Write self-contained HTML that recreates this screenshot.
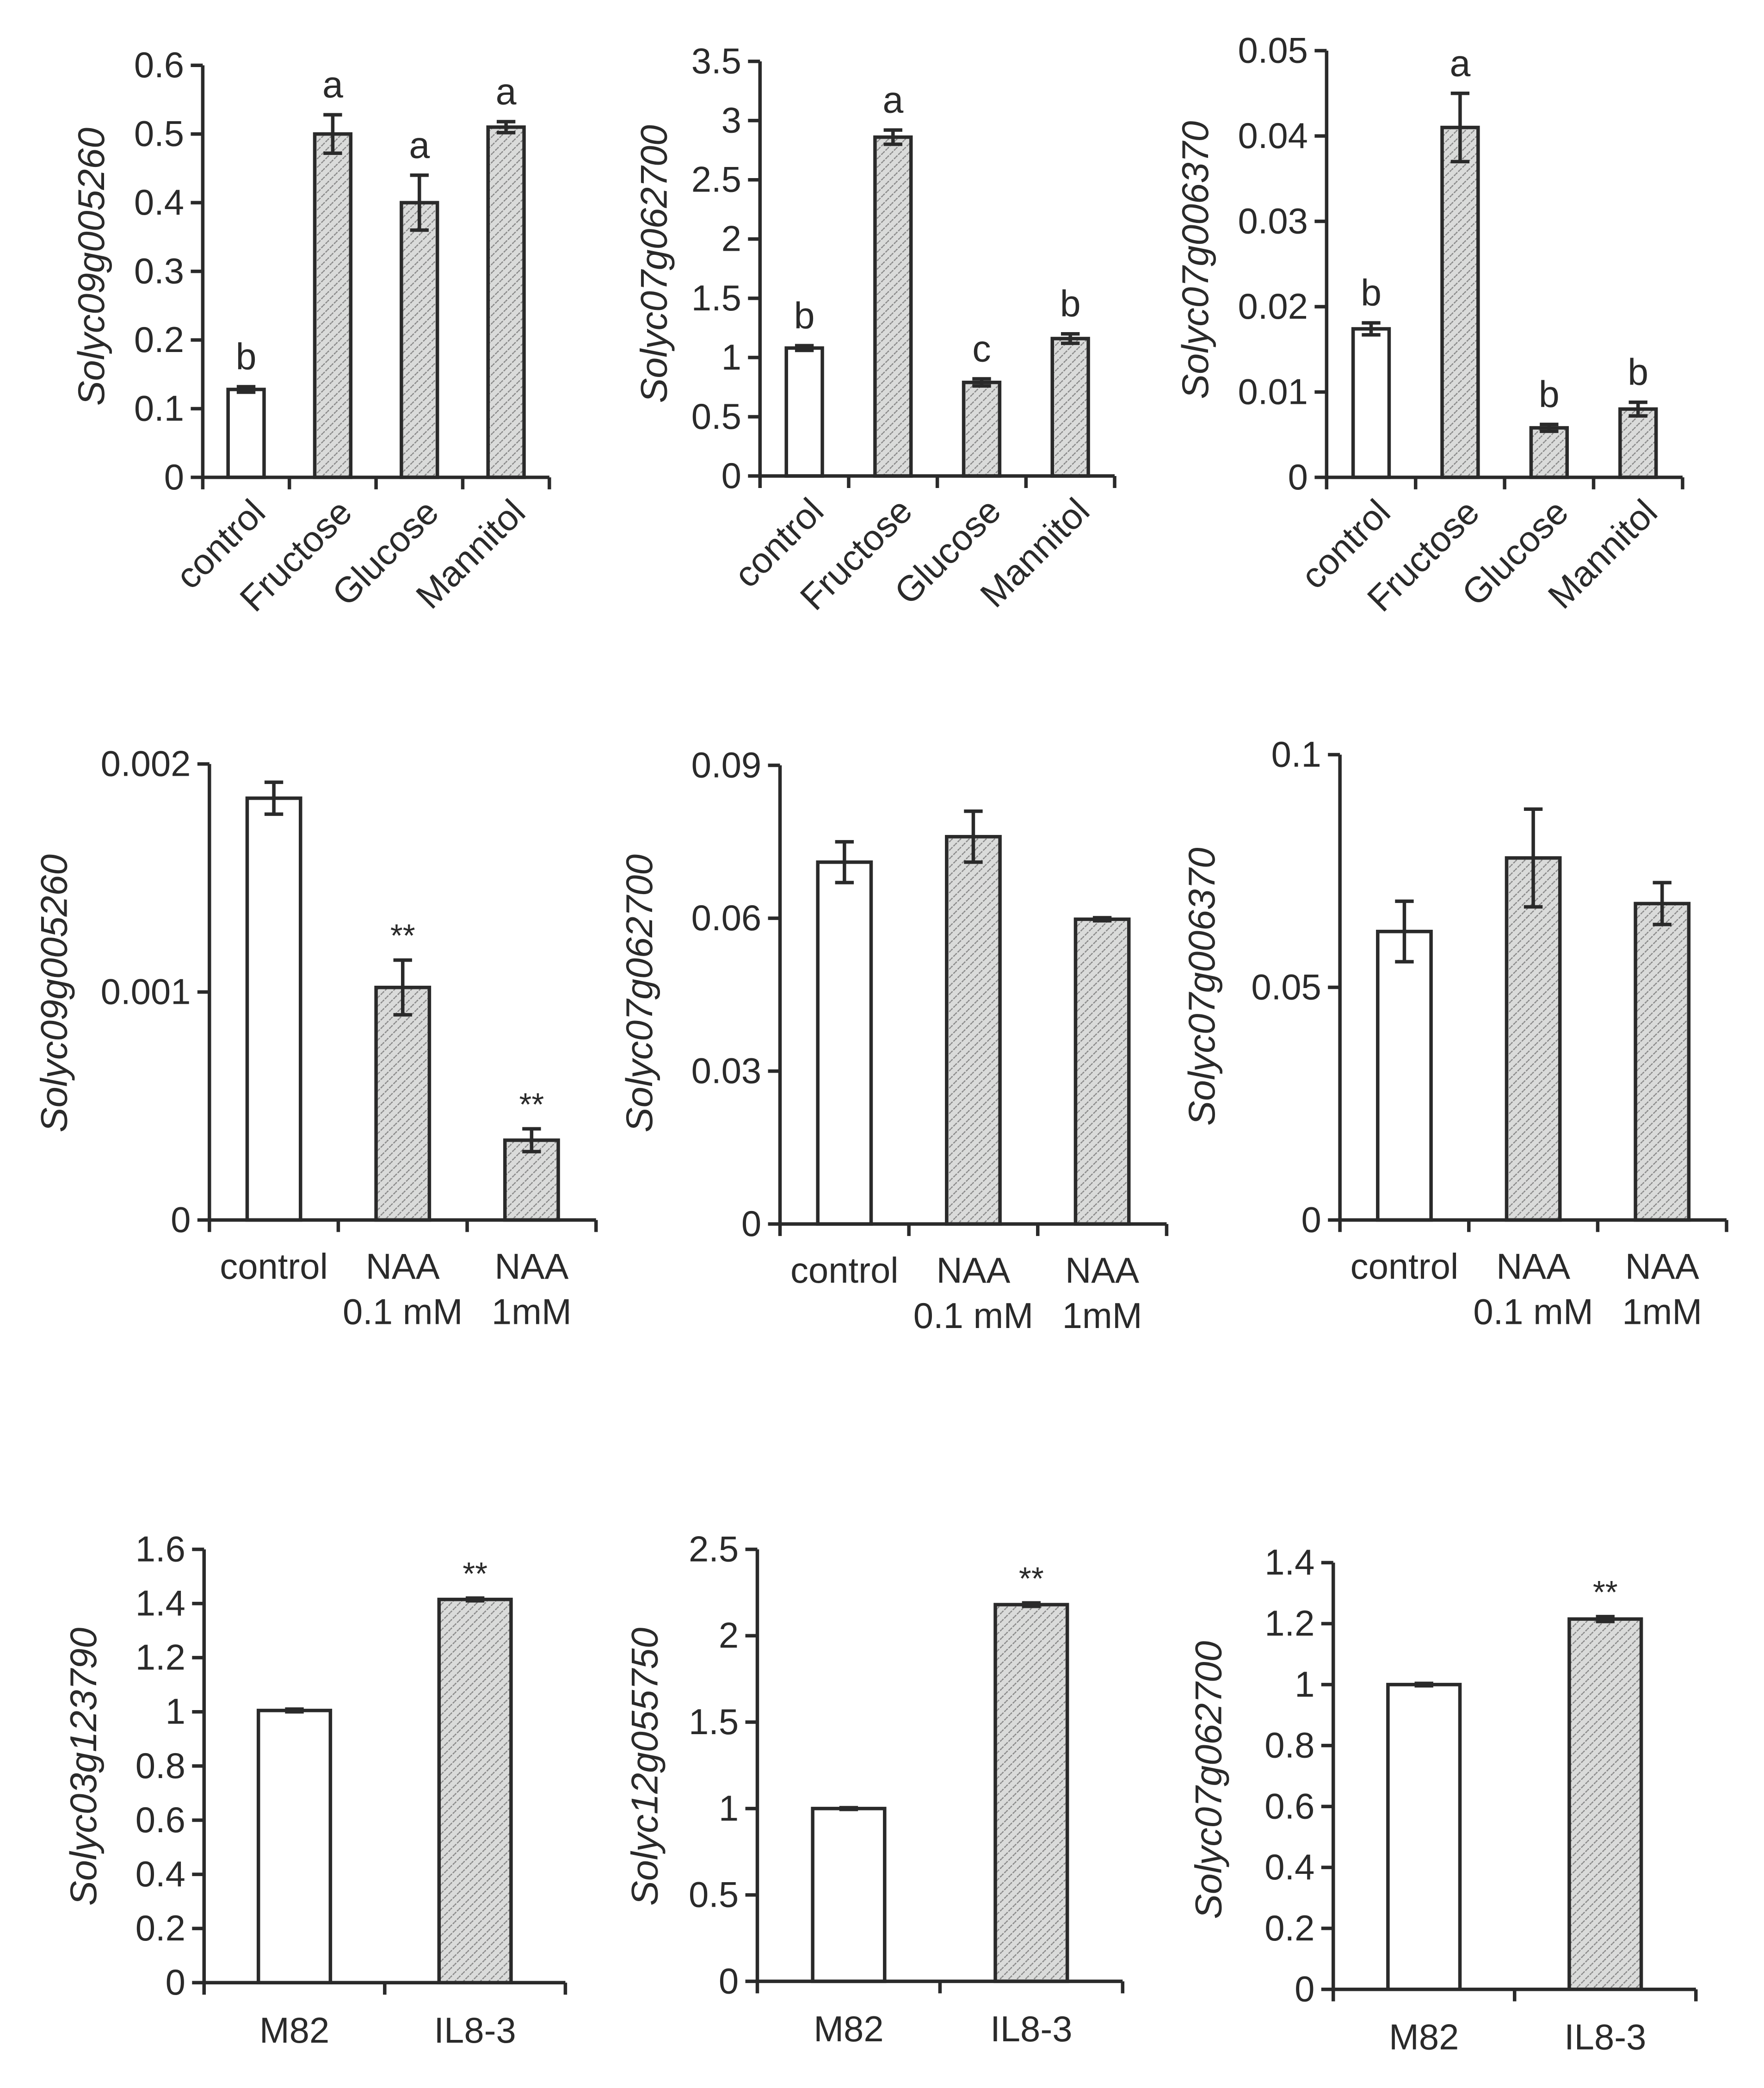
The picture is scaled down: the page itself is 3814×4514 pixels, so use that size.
<!DOCTYPE html>
<html><head><meta charset="utf-8"><style>
html,body{margin:0;padding:0;background:#fff;}
svg{display:block;}
</style></head><body>
<svg id="fig" width="3814" height="4514" viewBox="0 0 1323 1566" xmlns="http://www.w3.org/2000/svg" font-family="'Liberation Sans', Arial, sans-serif">
<defs>
<pattern id="hatch" patternUnits="userSpaceOnUse" width="4.5" height="4.5" patternTransform="rotate(45)">
<rect width="4.5" height="4.5" fill="#dadbda"/>
<line x1="0" y1="0" x2="0" y2="4.5" stroke="#858585" stroke-width="1.7" stroke-dasharray="1.7 0.9"/>
</pattern>
</defs>
</svg>
<script>
// ---- data ----
const sugarCats = ["control","Fructose","Glucose","Mannitol"];
const naaCats = [["control"],["NAA","0.1 mM"],["NAA","1mM"]];
const ilCats = ["M82","IL8-3"];

const c1Values = [0.128, 0.5, 0.40, 0.51];
const c1Errors = [0.004, 0.028, 0.04, 0.008];
const c1Letters = ["b","a","a","a"];
const c1Ticks = ["0","0.1","0.2","0.3","0.4","0.5","0.6"];

const c2Values = [1.08, 2.86, 0.79, 1.16];
const c2Errors = [0.02, 0.06, 0.03, 0.04];
const c2Letters = ["b","a","c","b"];
const c2Ticks = ["0","0.5","1","1.5","2","2.5","3","3.5"];

const c3Values = [0.0174, 0.041, 0.0058, 0.008];
const c3Errors = [0.0007, 0.004, 0.0004, 0.0008];
const c3Letters = ["b","a","b","b"];
const c3Ticks = ["0","0.01","0.02","0.03","0.04","0.05"];

const c4Values = [0.00185, 0.00102, 0.00035];
const c4Errors = [0.00007, 0.00012, 0.00005];
const c4Marks = ["","**","**"];
const c4Ticks = ["0","0.001","0.002"];

const c5Values = [0.071, 0.076, 0.0598];
const c5Errors = [0.004, 0.005, 0.0003];
const c5Marks = ["","",""];
const c5Ticks = ["0","0.03","0.06","0.09"];

const c6Values = [0.062, 0.0778, 0.068];
const c6Errors = [0.0065, 0.0105, 0.0045];
const c6Marks = ["","",""];
const c6Ticks = ["0","0.05","0.1"];

const c7Values = [1.005, 1.415];
const c7Errors = [0.005, 0.005];
const c7Marks = ["","**"];
const c7Ticks = ["0","0.2","0.4","0.6","0.8","1","1.2","1.4","1.6"];

const c8Values = [1.0, 2.18];
const c8Errors = [0.005, 0.01];
const c8Marks = ["","**"];
const c8Ticks = ["0","0.5","1","1.5","2","2.5"];

const c9Values = [1.0, 1.215];
const c9Errors = [0.004, 0.008];
const c9Marks = ["","**"];
const c9Ticks = ["0","0.2","0.4","0.6","0.8","1","1.2","1.4"];

const NS = "http://www.w3.org/2000/svg";
const svg = document.getElementById('fig');
const INK = "#2a2a2a";
const FS = 27;
function mk(tag, attrs, parent){ const e=document.createElementNS(NS,tag); for(const k in attrs) e.setAttribute(k,attrs[k]); (parent||svg).appendChild(e); return e; }

function chart(cfg){
  const g = mk('g',{});
  
  
  const ticks = cfg.ticks, max = parseFloat(ticks[ticks.length-1]);
  const y = v => cfg.y0 - (v/max)*(cfg.y0-cfg.yTop);
  const n = cfg.cats.length, step = (cfg.xEnd-cfg.x0)/n;
  const cx = i => cfg.x0 + step*(i+0.5);
  ticks.forEach(t=>{
    const yy = y(parseFloat(t));
    const tk = mk('line',{x1:cfg.x0-9,x2:cfg.x0,y1:yy,y2:yy,stroke:INK,'stroke-width':2.6},g);
    
    
    const tl = mk('text',{x:cfg.x0-14,y:yy+9,'text-anchor':'end','font-size':FS,fill:INK},g);
    
    
    tl.textContent=t;
  });
  cfg.values.forEach((v,i)=>{
    const bw=cfg.bw, x=cx(i)-bw/2, top=y(v);
    const b = mk('rect',{x:x,y:top,width:bw,height:cfg.y0-top,fill:i===0?'#fff':'url(#hatch)',stroke:INK,'stroke-width':2.6},g);
    
    
    const e=cfg.errors[i], yh=y(v+e), yl=y(v-e);
    const eb = mk('path',{d:`M${cx(i)} ${yh}V${yl}M${cx(i)-7} ${yh}H${cx(i)+7}M${cx(i)-7} ${yl}H${cx(i)+7}`,stroke:INK,'stroke-width':2.6,fill:'none'},g);
    
    
    const lab = cfg.marks[i];
    if(lab){
      const lt = mk('text',{x:cx(i),y:yh-(lab==='**'?10:13),'text-anchor':'middle','font-size':lab==='**'?24:28,fill:INK},g);
      
      
      lt.textContent=lab;
    }
  });
  const ax = mk('path',{d:`M${cfg.x0} ${cfg.yTop}V${cfg.y0}H${cfg.xEnd}`,stroke:INK,'stroke-width':2.6,fill:'none'},g);
  
  
  for(let i=0;i<=n;i++){
    const xx=cfg.x0+step*i;
    const xt = mk('line',{x1:xx,x2:xx,y1:cfg.y0,y2:cfg.y0+9,stroke:INK,'stroke-width':2.6},g);
    
    
  }
  cfg.cats.forEach((c,i)=>{
    if(cfg.rotate){
      const tx=cx(i)+16, ty=cfg.y0+28;
      const t = mk('text',{x:tx,y:ty,'text-anchor':'end','font-size':FS,fill:INK,transform:`rotate(-45 ${tx} ${ty})`},g);
      
      
      t.textContent=c;
    } else {
      const lines = Array.isArray(c)?c:[c];
      lines.forEach((ln,k)=>{
        const t = mk('text',{x:cx(i),y:cfg.y0+cfg.lab0+k*34,'text-anchor':'middle','font-size':FS,fill:INK},g);
        
        
        t.textContent=ln;
      });
    }
  });
  const yt = mk('text',{x:cfg.tx,y:cfg.ty,'text-anchor':'middle','font-size':28,'font-style':'italic',fill:INK,transform:`rotate(-90 ${cfg.tx} ${cfg.ty})`},g);
  
  
  yt.textContent=cfg.title;
}

chart({name:'chart-sugar-solyc09g005260',cats:sugarCats,values:c1Values,errors:c1Errors,marks:c1Letters,ticks:c1Ticks,x0:152,xEnd:412,yTop:49,y0:358,bw:27,rotate:true,tx:78,ty:200,title:'Solyc09g005260'});
chart({name:'chart-sugar-solyc07g062700',cats:sugarCats,values:c2Values,errors:c2Errors,marks:c2Letters,ticks:c2Ticks,x0:570,xEnd:836,yTop:46,y0:357,bw:27,rotate:true,tx:500,ty:198,title:'Solyc07g062700'});
chart({name:'chart-sugar-solyc07g006370',cats:sugarCats,values:c3Values,errors:c3Errors,marks:c3Letters,ticks:c3Ticks,x0:995,xEnd:1262,yTop:38,y0:358,bw:27,rotate:true,tx:906,ty:195,title:'Solyc07g006370'});

chart({name:'chart-naa-solyc09g005260',cats:naaCats,values:c4Values,errors:c4Errors,marks:c4Marks,ticks:c4Ticks,x0:157,xEnd:447,yTop:573,y0:915,bw:40,rotate:false,lab0:44,tx:50,ty:745,title:'Solyc09g005260'});
chart({name:'chart-naa-solyc07g062700',cats:naaCats,values:c5Values,errors:c5Errors,marks:c5Marks,ticks:c5Ticks,x0:585,xEnd:875,yTop:574,y0:918,bw:40,rotate:false,lab0:44,tx:489,ty:745,title:'Solyc07g062700'});
chart({name:'chart-naa-solyc07g006370',cats:naaCats,values:c6Values,errors:c6Errors,marks:c6Marks,ticks:c6Ticks,x0:1005,xEnd:1295,yTop:566,y0:915,bw:40,rotate:false,lab0:44,tx:911,ty:740,title:'Solyc07g006370'});

chart({name:'chart-il-solyc03g123790',cats:ilCats,values:c7Values,errors:c7Errors,marks:c7Marks,ticks:c7Ticks,x0:153,xEnd:424,yTop:1162,y0:1487,bw:54,rotate:false,lab0:45,tx:72,ty:1325,title:'Solyc03g123790'});
chart({name:'chart-il-solyc12g055750',cats:ilCats,values:c8Values,errors:c8Errors,marks:c8Marks,ticks:c8Ticks,x0:568,xEnd:842,yTop:1162,y0:1486,bw:54,rotate:false,lab0:45,tx:493,ty:1325,title:'Solyc12g055750'});
chart({name:'chart-il-solyc07g062700',cats:ilCats,values:c9Values,errors:c9Errors,marks:c9Marks,ticks:c9Ticks,x0:1000,xEnd:1272,yTop:1172,y0:1492,bw:54,rotate:false,lab0:45,tx:916,ty:1335,title:'Solyc07g062700'});
</script>
</body></html>
